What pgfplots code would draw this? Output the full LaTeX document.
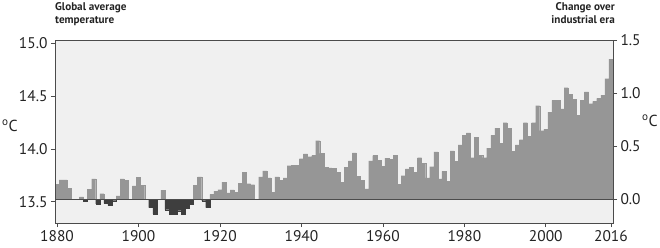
\documentclass[border=0pt]{standalone}
\usepackage{fontspec}
\setmainfont{PT Sans}
\usepackage{pgfplots}
\pgfplotsset{compat=1.18}
\usepackage{pgfplotstable}
\definecolor{bg}{RGB}{240,240,240}
\definecolor{pos}{RGB}{150,150,150}
\definecolor{neg}{RGB}{62,62,62}
\definecolor{axc}{RGB}{75,75,75}
\definecolor{txt}{RGB}{35,35,35}

\pgfplotstableread{
year v
1880 0.14
1881 0.18
1882 0.18
1883 0.10
1884 0.0
1885 0.0
1886 0.02
1887 -0.02
1888 0.09
1889 0.19
1890 -0.045
1891 0.05
1892 -0.04
1893 -0.06
1894 -0.015
1895 0.03
1896 0.19
1897 0.175
1898 0.0
1899 0.125
1900 0.205
1901 0.13
1902 0.0
1903 -0.08
1904 -0.14
1905 0.0
1906 0.085
1907 -0.10
1908 -0.14
1909 -0.14
1910 -0.11
1911 -0.145
1912 -0.085
1913 -0.045
1914 0.13
1915 0.21
1916 -0.015
1917 -0.08
1918 0.045
1919 0.075
1920 0.088
1921 0.16
1922 0.058
1923 0.086
1924 0.065
1925 0.15
1926 0.25
1927 0.145
1928 0.135
1929 0.0
1930 0.21
1931 0.265
1932 0.20
1933 0.065
1934 0.21
1935 0.175
1936 0.20
1937 0.315
1938 0.32
1939 0.32
1940 0.38
1941 0.425
1942 0.40
1943 0.41
1944 0.55
1945 0.43
1946 0.30
1947 0.295
1948 0.29
1949 0.25
1950 0.16
1951 0.30
1952 0.36
1953 0.435
1954 0.215
1955 0.177
1956 0.095
1957 0.36
1958 0.41
1959 0.365
1960 0.31
1961 0.385
1962 0.375
1963 0.41
1964 0.14
1965 0.22
1966 0.285
1967 0.30
1968 0.25
1969 0.39
1970 0.335
1971 0.20
1972 0.305
1973 0.445
1974 0.19
1975 0.26
1976 0.165
1977 0.455
1978 0.355
1979 0.51
1980 0.60
1981 0.625
1982 0.39
1983 0.585
1984 0.41
1985 0.39
1986 0.48
1987 0.60
1988 0.67
1989 0.525
1990 0.72
1991 0.67
1992 0.45
1993 0.51
1994 0.56
1995 0.72
1996 0.59
1997 0.72
1998 0.88
1999 0.645
2000 0.66
2001 0.82
2002 0.93
2003 0.93
2004 0.85
2005 1.05
2006 0.99
2007 0.94
2008 0.79
2009 0.93
2010 1.01
2011 0.90
2012 0.92
2013 0.95
2014 0.98
2015 1.135
2016 1.32
}\tempdata

\begin{document}
\begin{tikzpicture}
\pgfplotsset{
  common/.style={
    scale only axis, width=558bp, height=183bp,
    xmin=1879.5, xmax=2016.5,
    /pgf/number format/assume math mode=true,
    tick align=outside, major tick length=4bp,
    tick style={axc, line width=0.7pt},
    tick label style={font=\fontsize{15.5}{16}\selectfont, text=txt},
  }
}
\begin{axis}[common, name=ax,
  ymin=-0.226, ymax=1.5,
  axis background/.style={fill=bg},
  axis line style={axc, line width=0.8pt},
  axis on top,
  ytick={0,0.5,1,1.5}, yticklabel pos=right,
  ytick pos=right,
  yticklabel style={/pgf/number format/.cd, fixed, fixed zerofill, precision=1},
  xtick={1880,1900,1920,1940,1960,1980,2000,2016},
  xticklabels={1880,1900,1920,1940,1960,1980,2000,2016},
  xtick pos=bottom,
]
\addplot[ybar, bar width=1, bar shift=0pt, fill=pos, draw=pos, line width=0.2pt,
  restrict y to domain=0:5] table[x=year, y=v] {\tempdata};
\addplot[ybar, bar width=1, bar shift=0pt, fill=neg, draw=neg, line width=0.2pt,
  restrict y to domain=-5:0] table[x=year, y=v] {\tempdata};
\draw[axc, line width=0.9pt] (axis cs:1879.5,0) -- (axis cs:2016.5,0);
\end{axis}
\begin{axis}[common,
  ymin=13.298, ymax=15.031,
  hide x axis,
  axis y line*=left,
  y axis line style={draw=none},
  ytick={13.5,14,14.5,15},
  yticklabel style={/pgf/number format/.cd, fixed, fixed zerofill, precision=1},
]
\end{axis}
\node[inner sep=0pt, anchor=center, font=\fontsize{16}{16}\selectfont, text=txt]
  at ([shift={(-45bp,6bp)}]ax.west) {\textsuperscript{o}C};
\node[inner sep=0pt, anchor=center, font=\fontsize{16}{16}\selectfont, text=txt]
  at ([shift={(37bp,11bp)}]ax.east) {\textsuperscript{o}C};
\node[inner sep=0pt, anchor=north west, align=left, font=\bfseries\fontsize{11.2}{13}\selectfont, text=txt]
  at ([shift={(0bp,37.5bp)}]ax.north west) {Global average\\temperature};
\node[inner sep=0pt, anchor=north east, align=right, font=\bfseries\fontsize{11.2}{13}\selectfont, text=txt]
  at ([shift={(2bp,37.5bp)}]ax.north east) {Change over\\industrial era};
\pgfresetboundingbox
\path ([shift={(-55bp,-25bp)}]ax.south west) rectangle ([shift={(47bp,40bp)}]ax.north east);
\end{tikzpicture}
\end{document}
